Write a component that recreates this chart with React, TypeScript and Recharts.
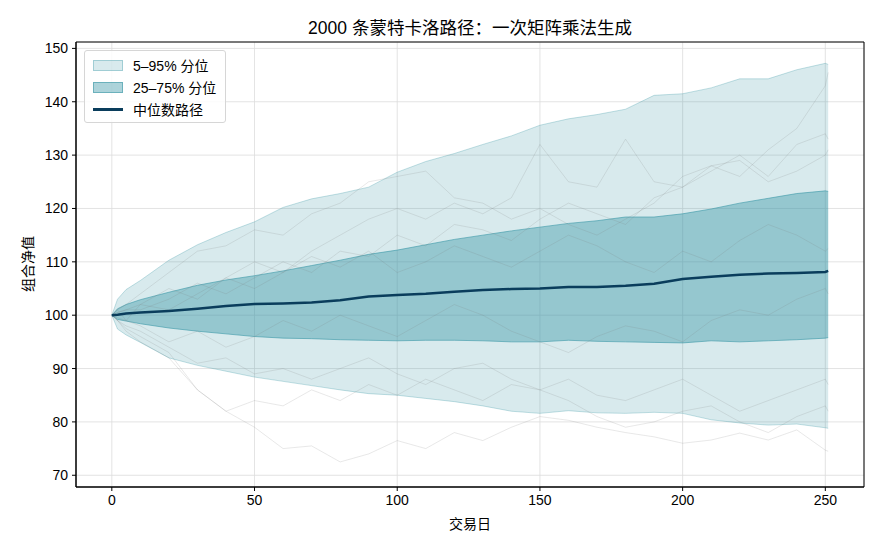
import React from "react";
import {
  ComposedChart,
  Area,
  Line,
  XAxis,
  YAxis,
  CartesianGrid,
  ReferenceArea,
} from "recharts";

const days = [0, 2, 5, 10, 20, 30, 40, 50, 60, 70, 80, 90, 100, 110, 120, 130, 140, 150, 160, 170, 180, 190, 200, 210, 220, 230, 240, 250, 251];

// percentile bands
const p95 = [100, 103.0, 104.8, 106.5, 110.3, 113.2, 115.5, 117.5, 120.2, 121.8, 122.8, 124.0, 126.8, 128.8, 130.3, 132.0, 133.6, 135.6, 136.8, 137.6, 138.6, 141.2, 141.5, 142.6, 144.3, 144.3, 146.0, 147.2, 147.0];
const p75 = [100, 101.2, 102.0, 102.9, 104.3, 105.6, 106.6, 107.4, 108.3, 109.3, 110.3, 111.4, 112.2, 113.2, 114.2, 115.0, 115.8, 116.5, 117.2, 117.7, 118.4, 118.4, 119.0, 119.9, 121.0, 121.9, 122.8, 123.3, 123.2];
const p50 = [100, 100.1, 100.3, 100.5, 100.8, 101.2, 101.7, 102.1, 102.2, 102.4, 102.8, 103.5, 103.8, 104.0, 104.4, 104.7, 104.9, 105.0, 105.3, 105.3, 105.5, 105.9, 106.8, 107.2, 107.6, 107.8, 107.9, 108.1, 108.3];
const p25 = [100, 99.2, 98.9, 98.4, 97.6, 97.0, 96.5, 96.0, 95.7, 95.6, 95.4, 95.3, 95.2, 95.3, 95.3, 95.2, 95.0, 95.0, 95.3, 95.1, 95.0, 94.9, 94.8, 95.2, 95.0, 95.2, 95.4, 95.7, 95.8];
const p05 = [100, 97.4, 96.3, 94.9, 92.0, 90.6, 89.5, 88.4, 87.6, 86.8, 86.0, 85.3, 85.0, 84.4, 83.8, 83.0, 82.0, 81.6, 82.1, 81.7, 81.6, 81.8, 81.6, 80.4, 79.8, 79.4, 79.6, 78.9, 78.8];

// a few of the faint sample paths
const pathA = [100, 99, 97, 95, 92, 86, 82, 79, 75, 75.5, 72.5, 74, 76.5, 75, 78, 76.5, 79, 81, 80.3, 79, 78, 77.2, 76, 76.6, 77.9, 76.6, 78.5, 74.7, 74.5];
const pathB = [100, 100.5, 101, 101, 103, 106, 104, 107, 110, 108, 112, 111, 115, 113, 117, 116, 114, 118, 121, 119, 117, 122, 124, 128, 126, 131, 135, 143, 145.5];
const pathC = [100, 101, 99, 102, 105, 103, 107, 110, 108, 112, 115, 118, 120, 118, 121, 119, 122, 132, 125, 124, 133, 125, 124, 127, 130, 126, 132, 134, 133];
const pathD = [100, 101, 102, 104, 108, 112, 113, 116, 115, 119, 121, 125, 126, 127, 122, 121, 118, 120, 117, 115, 118, 121, 126, 128, 129, 125, 127, 130, 131];
const pathE = [100, 99.5, 99, 98, 95, 97, 94, 96, 99, 97, 100, 98, 96, 99, 102, 100, 97, 95, 93, 96, 98, 97, 95, 99, 101, 100, 103, 105, 104];
const pathF = [100, 100.5, 101, 102, 101, 104, 107, 105, 108, 111, 109, 112, 108, 110, 113, 111, 109, 112, 115, 113, 110, 108, 112, 110, 114, 117, 115, 112, 112.5];
const pathG = [100, 99, 98, 97, 94, 91, 92, 89, 90, 88, 90, 92, 89, 87, 90, 91, 88, 86, 88, 85, 84, 86, 88, 85, 82, 84, 86, 88, 87];
const pathH = [100, 99, 97.5, 96, 93, 86, 82, 84, 83, 86, 84, 87, 85, 88, 86, 84, 87, 86, 84, 81, 79, 80, 82, 83, 80, 78, 81, 83, 82];

const samplePaths = [pathA, pathB, pathC, pathD, pathE, pathF, pathG, pathH];

const xTicks = [0, 50, 100, 150, 200, 250];
const yTicks = [70, 80, 90, 100, 110, 120, 130, 140, 150];

const X_DOMAIN: [number, number] = [-12.55, 263.55];
const Y_DOMAIN: [number, number] = [67.8, 151.2];

const TEAL = "#3a97a6";
const NAVY = "#0a3d5c";
const FONT = "'Liberation Sans', 'Noto Sans CJK SC', sans-serif";

const data = days.map((d, i) => {
  const row: Record<string, any> = {
    day: d,
    band95: [p05[i], p95[i]],
    band50: [p25[i], p75[i]],
    median: p50[i],
  };
  samplePaths.forEach((p, k) => {
    row["s" + k] = p[i];
  });
  return row;
});

function LegendBox() {
  const item = { display: "flex", alignItems: "center", height: 22 } as const;
  const patch = (op: number) => ({
    width: 30,
    height: 11,
    marginRight: 10,
    background: `rgba(58,151,166,${op})`,
    border: `1px solid rgba(58,151,166,${op + 0.15})`,
    boxSizing: "border-box" as const,
  });
  return (
    <div
      style={{
        position: "absolute",
        left: 84,
        top: 50,
        width: 142,
        height: 73,
        boxSizing: "border-box",
        padding: "3px 8px",
        background: "rgba(255,255,255,0.85)",
        border: "1px solid #d6d6d6",
        borderRadius: 3,
        fontSize: 14,
        color: "#000",
        whiteSpace: "nowrap",
      }}
    >
      <div style={item}>
        <div style={patch(0.2)} />
        <span>5–95% 分位</span>
      </div>
      <div style={item}>
        <div style={patch(0.42)} />
        <span>25–75% 分位</span>
      </div>
      <div style={item}>
        <div style={{ width: 30, height: 3, marginRight: 10, background: NAVY }} />
        <span>中位数路径</span>
      </div>
    </div>
  );
}

export default function App() {
  return (
    <div
      style={{
        position: "absolute",
        left: 0,
        top: 0,
        width: 880,
        height: 550,
        background: "#fff",
        fontFamily: FONT,
      }}
    >
      <ComposedChart
        width={880}
        height={550}
        data={data}
        margin={{ top: 42, right: 16, bottom: 33, left: 16 }}
      >
        <CartesianGrid stroke="#dcdcdc" strokeWidth={0.8} />
        <XAxis
          dataKey="day"
          type="number"
          domain={X_DOMAIN}
          ticks={xTicks}
          allowDataOverflow
          height={30}
          tickSize={4}
          tickMargin={4}
          stroke="#000"
          tick={{ fontSize: 14, fill: "#000", fontFamily: FONT }}
        />
        <YAxis
          type="number"
          domain={Y_DOMAIN}
          ticks={yTicks}
          allowDataOverflow
          width={60}
          tickSize={4}
          tickMargin={4}
          stroke="#000"
          tick={{ fontSize: 14, fill: "#000", fontFamily: FONT }}
        />
        <Area
          type="linear"
          dataKey="band95"
          fill={TEAL}
          fillOpacity={0.2}
          stroke={TEAL}
          strokeOpacity={0.3}
          strokeWidth={1}
          isAnimationActive={false}
        />
        <Area
          type="linear"
          dataKey="band50"
          fill={TEAL}
          fillOpacity={0.42}
          stroke={TEAL}
          strokeOpacity={0.6}
          strokeWidth={1}
          isAnimationActive={false}
        />
        {samplePaths.map((_, k) => (
          <Line
            key={k}
            type="linear"
            dataKey={"s" + k}
            stroke="#7a7a7a"
            strokeOpacity={0.22}
            strokeWidth={0.8}
            dot={false}
            isAnimationActive={false}
          />
        ))}
        <Line
          type="linear"
          dataKey="median"
          stroke={NAVY}
          strokeWidth={2.5}
          dot={false}
          isAnimationActive={false}
        />
        <ReferenceArea
          x1={X_DOMAIN[0]}
          x2={X_DOMAIN[1]}
          y1={Y_DOMAIN[0]}
          y2={Y_DOMAIN[1]}
          fill="none"
          stroke="#000"
          strokeWidth={1}
          ifOverflow="visible"
        />
      </ComposedChart>
      <div
        style={{
          position: "absolute",
          left: 76,
          width: 788,
          top: 14,
          textAlign: "center",
          fontSize: 17.5,
          color: "#000",
          whiteSpace: "nowrap",
        }}
      >
        2000 条蒙特卡洛路径：一次矩阵乘法生成
      </div>
      <div
        style={{
          position: "absolute",
          left: 76,
          width: 788,
          top: 513,
          textAlign: "center",
          fontSize: 14,
          color: "#000",
        }}
      >
        交易日
      </div>
      <div
        style={{
          position: "absolute",
          left: 27,
          top: 264,
          transform: "translate(-50%, -50%) rotate(-90deg)",
          fontSize: 14,
          color: "#000",
          whiteSpace: "nowrap",
        }}
      >
        组合净值
      </div>
      <LegendBox />
    </div>
  );
}
